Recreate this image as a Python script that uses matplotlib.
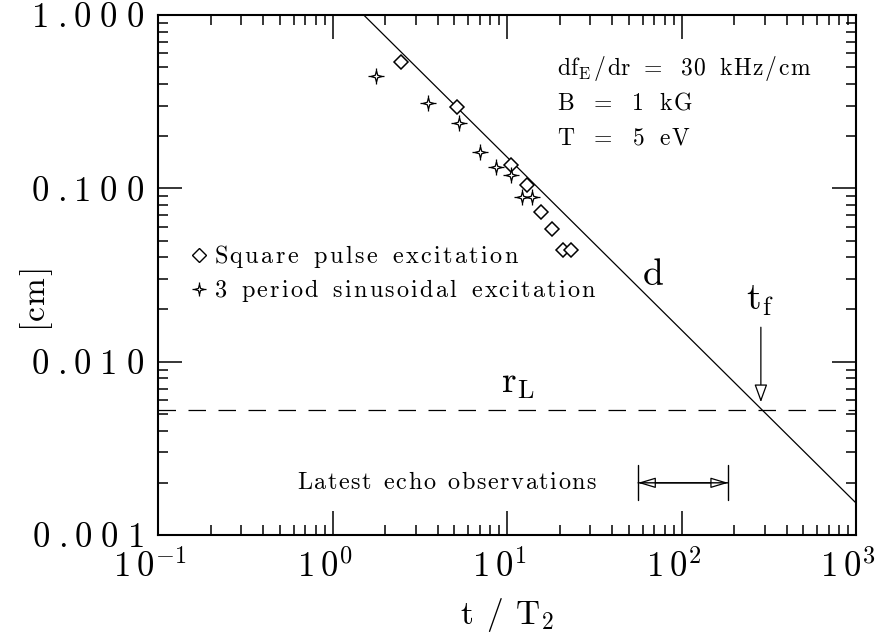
"""Decay of the echo scale length d against t/T2, compared with the Larmor radius."""

import matplotlib

matplotlib.use("Agg")
import matplotlib.pyplot as plt
import numpy as np
from matplotlib.lines import Line2D
from matplotlib.ticker import FuncFormatter, LogLocator, NullFormatter
from matplotlib.transforms import ScaledTranslation

plt.rcParams["font.family"] = "serif"
plt.rcParams["font.serif"] = ["cmr10", "DejaVu Serif"]
plt.rcParams["mathtext.fontset"] = "cm"
plt.rcParams["axes.formatter.use_mathtext"] = True

# measured echo widths [cm] vs t/T2
square_t = [2.47, 5.16, 10.5, 13.0, 15.7, 18.1, 20.9, 23.3]
square_d = [0.535, 0.294, 0.136, 0.1045, 0.073, 0.0582, 0.0441, 0.0441]
sine_t = [1.78, 3.52, 5.31, 7.0, 8.64, 10.5, 12.2, 13.9]
sine_d = [0.445, 0.311, 0.238, 0.162, 0.133, 0.119, 0.089, 0.089]

# theory line d ~ 1/t, given by its two end points
theory_t = [1.51, 1000.0]
theory_d = [1.0, 0.00153]

larmor_radius = 0.00526
t_final = 285.0
echo_window = [56.4, 185.0]

# concave four-point star used for the sinusoidal-excitation points
STAR = [(0, 1), (0.22, 0.22), (1, 0), (0.22, -0.22), (0, -1),
        (-0.22, -0.22), (-1, 0), (-0.22, 0.22), (0, 1)]


def spaced(text, gap=0.12, space=0.45):
    """Mathtext roman string with extra letter spacing (none after a '.')."""
    out = ""
    prev = None
    for ch in text:
        if prev is not None and prev != ".":
            out += rf"\hspace{{{gap}}}"
        if ch == " ":
            out += rf"\hspace{{{space}}}"
        else:
            out += r"\mathrm{" + ch + "}"
        prev = ch
    return out


def main():
    fig = plt.figure(figsize=(8.75, 6.4), dpi=100)
    ax = fig.add_axes([158 / 875, 1 - 535 / 640, 698 / 875, 520 / 640])
    ax.set_xscale("log")
    ax.set_yscale("log")
    ax.set_xlim(0.1, 1000)
    ax.set_ylim(0.001, 1.0)

    ax.plot(theory_t, theory_d, color="black", lw=0.9)
    rl_line = ax.axhline(larmor_radius, color="black", lw=0.9)
    rl_line.set_dashes((14, 10))

    ax.plot(square_t, square_d, ls="none", marker="D", ms=7, mfc="white",
            mec="black", mew=1.1)
    ax.plot(sine_t, sine_d, ls="none", marker="+", ms=12, mec="black", mew=0.9)
    ax.plot(sine_t, sine_d, ls="none", marker=STAR, ms=8, mfc="white",
            mec="black", mew=0.9)

    # legend
    sq_handle = Line2D([], [], ls="none", marker="D", ms=7, mfc="white",
                       mec="black", mew=1.0)
    plus_handle = Line2D([], [], ls="none", marker="+", ms=10, mec="black", mew=0.9)
    star_handle = Line2D([], [], ls="none", marker=STAR, ms=7, mfc="white",
                         mec="black", mew=0.9)
    ax.legend([sq_handle, (plus_handle, star_handle)],
              ["$" + spaced("Square pulse excitation", gap=0.11, space=0.5) + "$",
               "$" + spaced("3 period sinusoidal excitation", gap=0.1, space=0.5) + "$"],
              loc="upper left", bbox_to_anchor=(0.035, 0.58), frameon=False,
              fontsize=17.5, handlelength=0.6, handletextpad=0.3,
              labelspacing=0.3, borderaxespad=0)

    # plasma parameters
    params = [
        r"$\mathrm{df}_{\mathrm{E}}\hspace{0.1}/\hspace{0.1}\mathrm{dr}\hspace{0.5}"
        + spaced("= 30 kHz/cm", gap=0.08, space=0.5) + "$",
        "$" + spaced("B = 1 kG", gap=0.08, space=0.6) + "$",
        "$" + spaced("T = 5 eV", gap=0.08, space=0.6) + "$",
    ]
    for i, line in enumerate(params):
        ax.text(0.572, 0.898 - i * 0.0675, line, transform=ax.transAxes,
                fontsize=17, ha="left", va="center")

    ax.text(0.709, 0.50, r"$\mathrm{d}$", transform=ax.transAxes, fontsize=27,
            ha="center", va="center")
    ax.text(0.515, 0.29, r"$\mathrm{r}_{\mathrm{L}}$", transform=ax.transAxes,
            fontsize=27, ha="center", va="center")
    ax.text(0.862, 0.45, r"$\mathrm{t}_{\mathrm{f}}$", transform=ax.transAxes,
            fontsize=27, ha="center", va="center")

    # t_f marker arrow
    ax.annotate("", xy=(t_final, larmor_radius * 1.11), xytext=(t_final, 0.0158),
                arrowprops=dict(arrowstyle="-|>,head_length=0.55,head_width=0.2",
                                fc="white", ec="black", lw=0.9,
                                mutation_scale=20, shrinkA=0, shrinkB=0))

    # window of the latest echo observations
    y_obs = 0.00200
    ax.annotate("", xy=(echo_window[1], y_obs), xytext=(echo_window[0], y_obs),
                arrowprops=dict(arrowstyle="<|-|>,head_length=0.6,head_width=0.18",
                                fc="white", ec="black", lw=0.9,
                                mutation_scale=18, shrinkA=0, shrinkB=0))
    ax.annotate("", xy=(echo_window[1], y_obs), xytext=(echo_window[0], y_obs),
                arrowprops=dict(arrowstyle="|-|,widthA=0.7,widthB=0.7",
                                ec="black", lw=1.0, mutation_scale=18,
                                shrinkA=0, shrinkB=0))
    ax.text(0.630, 0.10, "$" + spaced("Latest echo observations", gap=0.07, space=0.45) + "$",
            transform=ax.transAxes, fontsize=17.5, ha="right", va="center")

    # axes styling
    for spine in ax.spines.values():
        spine.set_linewidth(1.5)
    ax.tick_params(which="both", direction="in", top=True, right=True, width=1.1)
    ax.tick_params(which="major", length=17, pad=10, labelsize=25)
    ax.tick_params(which="minor", length=7)
    ax.xaxis.set_major_locator(LogLocator(base=10, numticks=10))
    ax.xaxis.set_minor_locator(LogLocator(base=10, subs=np.arange(2, 10), numticks=20))
    ax.yaxis.set_minor_locator(LogLocator(base=10, subs=np.arange(2, 10), numticks=20))
    ax.xaxis.set_minor_formatter(NullFormatter())
    ax.yaxis.set_minor_formatter(NullFormatter())
    ax.xaxis.set_major_formatter(FuncFormatter(
        lambda v, pos: "$" + spaced("10", gap=0.2) + rf"^{{{int(round(np.log10(v)))}}}$"))
    ax.yaxis.set_major_formatter(FuncFormatter(
        lambda v, pos: "$" + spaced(f"{v:.3f}", gap=0.3) + "$"))

    # x tick labels sit a little left of their ticks
    shift = ScaledTranslation(-8 / 100, 0, fig.dpi_scale_trans)
    for label in ax.get_xticklabels():
        label.set_transform(label.get_transform() + shift)

    ax.set_xlabel(r"$\mathrm{t}\hspace{0.45}/\hspace{0.45}\mathrm{T}_{2}$", fontsize=24)
    ax.set_ylabel("$" + spaced("[cm]", gap=0.05) + "$", fontsize=24)
    ax.xaxis.set_label_coords(0.5, -0.118)
    ax.yaxis.set_label_coords(-0.148, 0.452)

    fig.savefig("out.png", dpi=100)
    plt.close(fig)


if __name__ == "__main__":
    main()
